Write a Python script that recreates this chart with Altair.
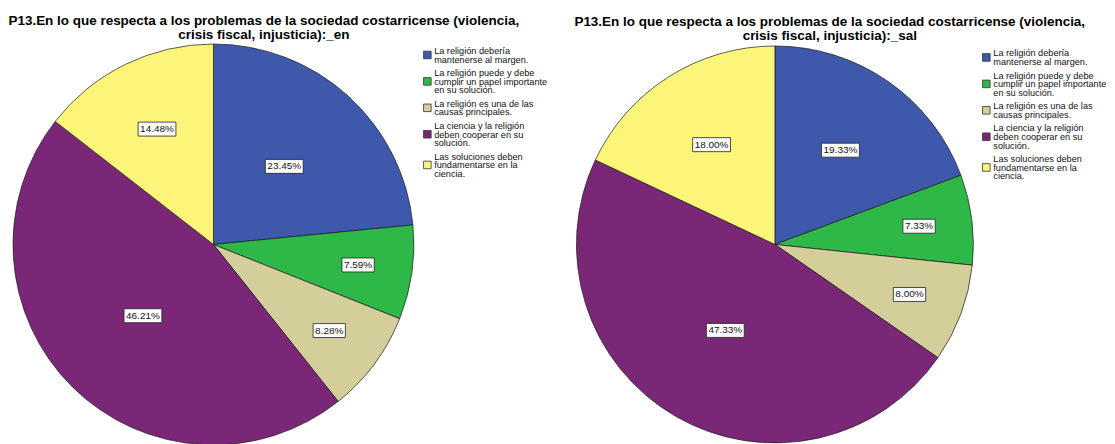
import altair as alt
import pandas as pd

categories = [
    "La religión debería\nmantenerse al margen.",
    "La religión puede y debe\ncumplir un papel importante\nen su solución.",
    "La religión es una de las\ncausas principales.",
    "La ciencia y la religión\ndeben cooperar en su\nsolución.",
    "Las soluciones deben\nfundamentarse en la\nciencia.",
]
en_values = [23.45, 7.59, 8.28, 46.21, 14.48]
sal_values = [19.33, 7.33, 8.00, 47.33, 18.00]
colors = ["#3e58ac", "#2eb848", "#d3ce9a", "#7b2777", "#fbf579"]
title_en = ["P13.En lo que respecta a los problemas de la sociedad costarricense (violencia,",
            "crisis fiscal, injusticia):_en"]
title_sal = ["P13.En lo que respecta a los problemas de la sociedad costarricense (violencia,",
             "crisis fiscal, injusticia):_sal"]

FONT = "Liberation Sans"
LH = 8.6      # legend line height
GAP = 5.0     # gap between legend entries


def panel(values, title, W, H, cx, cy, R, title_dx, leg_sx, leg_tx, leg_top):
    df = pd.DataFrame({
        "cat": categories,
        "value": values,
        "idx": list(range(len(values))),
        "label": [f"{v:.2f}%" for v in values],
    })
    cscale = alt.Scale(domain=categories, range=colors)
    xs = alt.Scale(domain=[-cx, W - cx], nice=False, zero=False)
    ys = alt.Scale(domain=[cy - H, cy], nice=False, zero=False)

    base = alt.Chart(df).properties(width=W, height=H)
    arc = base.mark_arc(outerRadius=R, stroke="#1a1a1a", strokeWidth=0.7).encode(
        theta=alt.Theta("value:Q", stack=True),
        color=alt.Color("cat:N", scale=cscale, legend=None),
        order=alt.Order("idx:Q"),
        x=alt.value(cx),
        y=alt.value(cy),
    )
    pos = base.transform_joinaggregate(total="sum(value)").transform_window(
        cum="sum(value)", sort=[alt.SortField("idx")]
    ).transform_calculate(
        f="datum.value / datum.total",
        a="2 * PI * (datum.cum - datum.value / 2) / datum.total",
    ).transform_calculate(
        r=f"{R} * max(0.5, 0.826 - 1.28 * datum.f)",
    ).transform_calculate(
        lx="datum.r * sin(datum.a)",
        ly="datum.r * cos(datum.a)",
        hw="(5.56 * (length(datum.label) - 2) + 2.78 + 8.89 + 4) / 2",
    ).transform_calculate(
        x1="datum.lx - datum.hw", x2="datum.lx + datum.hw",
        y1="datum.ly - 7", y2="datum.ly + 7",
    )
    box = pos.mark_rect(fill="white", stroke="#222222", strokeWidth=0.8).encode(
        x=alt.X("x1:Q", scale=xs, axis=None),
        x2="x2:Q",
        y=alt.Y("y1:Q", scale=ys, axis=None),
        y2="y2:Q",
    )
    txt = pos.mark_text(fontSize=10, font=FONT, color="#111111").encode(
        x=alt.X("lx:Q", scale=xs, axis=None),
        y=alt.Y("ly:Q", scale=ys, axis=None),
        text="label:N",
    )

    # custom legend (swatch centred on multi-line label)
    leg = base.transform_calculate(
        n="length(split(datum.cat, '\\n'))"
    ).transform_window(
        cumn="sum(n)", sort=[alt.SortField("idx")]
    ).transform_calculate(
        by=f"{leg_top} - ((datum.cumn - datum.n) * {LH} + datum.idx * {GAP})"
    ).transform_calculate(
        sy=f"datum.by - (datum.n - 1) * {LH} / 2 + 3.3",
        sx=f"{leg_sx}", tx=f"{leg_tx}",
    )
    sw = leg.mark_square(size=58, stroke="#333333", strokeWidth=0.8, opacity=1).encode(
        x=alt.X("sx:Q", scale=xs, axis=None),
        y=alt.Y("sy:Q", scale=ys, axis=None),
        color=alt.Color("cat:N", scale=cscale, legend=None),
    )
    lt = leg.mark_text(align="left", baseline="alphabetic", lineBreak="\n",
                       lineHeight=LH, fontSize=9.2, font=FONT, color="#111111").encode(
        x=alt.X("tx:Q", scale=xs, axis=None),
        y=alt.Y("by:Q", scale=ys, axis=None),
        text="cat:N",
    )
    return alt.layer(arc, box, txt, sw, lt).properties(
        title=alt.Title(text=title, fontSize=13.5, font=FONT, fontWeight="bold",
                        anchor="middle", dx=title_dx, offset=1, lineHeight=14,
                        color="#000000")
    )


left = panel(en_values, title_en, 557, 400, 206, 201.5, 201, -22, 214.5, 221.3, 191)
right = panel(sal_values, title_sal, 536, 400, 206, 201.5, 199, -7, 212, 219, 188.5)

chart = alt.hconcat(left, right, spacing=6).properties(
    padding={"left": 0, "top": 5, "right": 0, "bottom": 0}
).configure(font=FONT).configure_view(strokeWidth=0, stroke="transparent")

chart.save("out.html", embed_options={"renderer": "svg", "actions": False})
